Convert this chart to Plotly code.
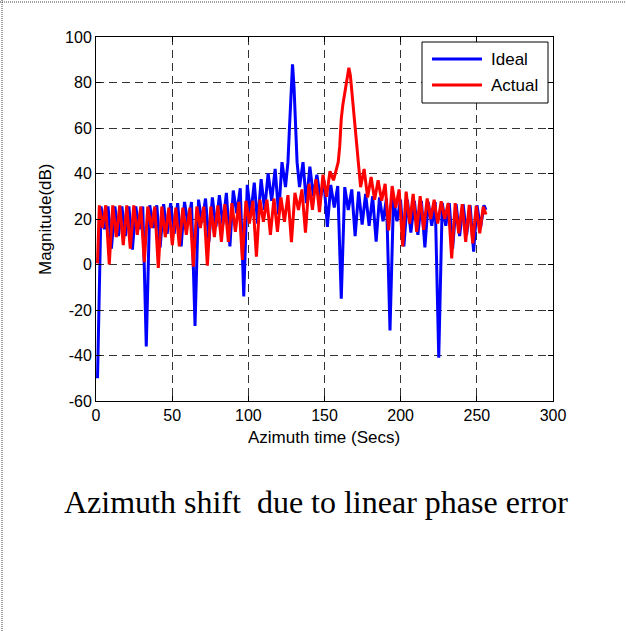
import plotly.graph_objects as go

# ---------------- data ----------------
ideal_x = (
    [1, 3.3, 5.6, 7.9, 10.1, 12.4, 14.7, 17.0, 19.3, 21.6, 23.9, 26.1, 28.4, 30.7]
    + [33, 35.3, 37.6, 39.9, 42.1, 44.4, 46.7, 49.0, 51.3, 53.6, 55.9, 58.1, 60.4, 62.7]
    + [65, 67.3, 69.6, 71.9, 74.1, 76.4, 78.7, 81.0, 83.3, 85.6, 87.9, 90.1, 92.4, 94.7]
    + [97, 99.3, 101.6, 103.9, 106.1, 108.4, 110.7, 113.0, 115.3, 117.6, 119.9, 122.1]
    + [124.4, 126, 127, 128, 129, 130, 131, 132, 133.6]
    + [135.9, 138.1, 140.4, 142.7, 145.0, 147.3, 149.6, 151.9, 154.1, 156.4, 158.7]
    + [161, 163.3, 165.6, 167.9, 170.1, 172.4, 174.7, 177.0, 179.3, 181.6, 183.9, 186.1, 188.4, 190.7]
    + [193, 195.3, 197.6, 199.9, 202.1, 204.4, 206.7, 209.0, 211.3, 213.6, 215.9, 218.1, 220.4, 222.7]
    + [225, 227.3, 229.6, 231.9, 234.1, 236.4, 238.7, 241.0, 243.3, 245.6, 247.9, 250.1, 252.4, 254.7, 256]
)
ideal_y = (
    [-50, 25.5, 15.5, 25.5, 7, 25.5, 12.5, 25.5, 12.5, 25.5, 6.5, 25.5, 15.5, 25.5]
    + [-36, 26, 16, 26, 7.5, 26.5, 13.5, 27, 13.5, 27, 8, 27.5, 17.5, 27.5]
    + [-27, 28.5, 18.5, 29, 10, 29.5, 16.5, 30.5, 17.5, 31.5, 8, 32.5, 22.5, 33.5]
    + [-14, 35, 22, 36, 18, 37.5, 24, 40, 28, 42, 22, 45]
    + [34, 45, 60, 78, 88, 78, 60, 45, 34]
    + [45, 27, 43, 30, 39.5, 29, 37, 16.5, 35, 25, 34.5]
    + [-15, 34, 24, 33, 12.5, 32, 17.5, 31, 17, 30, 10, 29.5, 19, 29]
    + [-29, 29, 19, 28.5, 8, 28.5, 14, 28, 13, 28, 7.5, 27.5, 17, 27.5]
    + [-41, 27, 17, 27, 7, 26.5, 12.5, 26.5, 13, 26, 5.6, 26, 16, 26, 24]
)

actual_x = (
    [1, 2.2, 4.1, 6.4, 8.7, 11.0, 13.3, 15.6, 17.9, 20.2, 22.5, 24.8, 27.1, 29.4, 31.7, 34.0, 36.3, 38.6]
    + [40.9, 43.2, 45.5, 47.8, 50.1, 52.4, 54.7, 57.0, 59.3, 61.6, 63.9, 66.2, 68.5, 70.8]
    + [73.1, 75.4, 77.7, 80.0, 82.3, 84.6, 86.9, 89.2, 91.5, 93.8, 96.1, 98.4, 100.7, 103.0]
    + [105.3, 107.6, 109.9, 112.2, 114.5, 116.8, 119.1, 121.4, 123.7, 126.0, 128.3, 130.6, 132.9, 135.2]
    + [137.5, 139.8, 142.1, 144.4, 146.7, 149.0, 151.3, 153.6, 155.9]
    + [158, 159, 160, 161, 162, 163, 164, 165, 166, 167, 168, 169, 170, 171, 172]
    + [173.7]
    + [176.0, 178.3, 180.6, 182.9, 185.2, 187.5, 189.8, 192.1, 194.4, 196.7, 199.0, 201.3, 203.6, 205.9]
    + [208.2, 210.5, 212.8, 215.1, 217.4, 219.7, 222.0, 224.3, 226.6, 228.9, 231.2, 233.5, 235.8, 238.1]
    + [240.4, 242.7, 245.0, 247.3, 249.6, 251.9, 254.2, 256]
)
actual_y = (
    [0.5, 26, 16, 26, 0, 26, 12, 26, 8.5, 26, 7, 26, 13, 25.5, 1, 25.5, 16, 25.5]
    + [-1.5, 25.5, 12, 25, 8.5, 25, 8, 25, 13, 25, -1, 25.5, 16, 25.5]
    + [-0.5, 25.5, 12, 26, 10, 26.5, 10, 27, 14.4, 27.5, 2, 28, 18, 28]
    + [3.4, 28.5, 18.8, 28.5, 13, 29, 14.4, 29.5, 18.8, 30.5, 9.8, 31.5, 24, 33]
    + [14, 35.5, 24, 37.5, 23, 39.5, 29.8, 41, 37]
    + [43, 45, 52, 64, 70, 74, 78, 84, 86.5, 83, 76, 68, 61, 53, 45]
    + [34]
    + [42, 29.5, 38.5, 28.5, 37, 28, 35.5, 15, 34.5, 25, 33, 8, 32, 18]
    + [31, 14.4, 30, 15.2, 29, 20, 28.5, 18, 27.8, 20, 27, 2.7, 27, 13.7]
    + [26.5, 10, 26.2, 9.3, 25.8, 13.7, 25.4, 22]
)

x_ticks = [0, 50, 100, 150, 200, 250, 300]
y_ticks = [-60, -40, -20, 0, 20, 40, 60, 80, 100]
series_names = ["Ideal", "Actual"]
series_colors = ["#0000FF", "#FF0000"]
x_title = "Azimuth time (Secs)"
y_title = "Magnitude(dB)"
caption = "Azimuth shift  due to linear phase error"

# ---------------- figure ----------------
W, H = 626, 631
L, R, T, B = 96, 73, 37, 230
pw, ph = W - L - R, H - T - B


def px_x(p):
    return (p - L) / pw


def px_y(p):
    return (H - B - p) / ph


sans = "Liberation Sans, Arial, sans-serif"
fs_tick = 16
fs_title = 17
lw = 3

fig = go.Figure()
fig.add_trace(go.Scatter(x=ideal_x, y=ideal_y, mode="lines", name=series_names[0],
                         line=dict(color=series_colors[0], width=lw), showlegend=False))
fig.add_trace(go.Scatter(x=actual_x, y=actual_y, mode="lines", name=series_names[1],
                         line=dict(color=series_colors[1], width=lw), showlegend=False))

axis_common = dict(
    showline=True, linecolor="black", linewidth=1, mirror="ticks",
    ticks="inside", ticklen=5, tickcolor="black", tickwidth=1,
    showgrid=True, gridcolor="#333333", gridwidth=1, griddash="8px,5px",
    zeroline=False, tickfont=dict(family=sans, size=fs_tick, color="black"),
)
fig.update_xaxes(range=[0, 300], tickvals=x_ticks, ticktext=[str(v) for v in x_ticks], **axis_common)
fig.update_yaxes(range=[-60, 100], tickvals=y_ticks, ticktext=[str(v) for v in y_ticks], **axis_common)

# legend drawn by hand (MATLAB style box, long line samples)
leg_box = (422, 42, 548, 103)
leg_rows = [59, 85]
shapes = [
    dict(type="rect", xref="paper", yref="paper",
         x0=px_x(leg_box[0]), x1=px_x(leg_box[2]), y0=px_y(leg_box[3]), y1=px_y(leg_box[1]),
         line=dict(color="black", width=1), fillcolor="white", layer="above"),
]
annotations = []
for name, col, ry in zip(series_names, series_colors, leg_rows):
    shapes.append(dict(type="line", xref="paper", yref="paper",
                       x0=px_x(432), x1=px_x(482), y0=px_y(ry), y1=px_y(ry),
                       line=dict(color=col, width=lw), layer="above"))
    annotations.append(dict(text=name, x=px_x(489), y=px_y(ry), xref="paper", yref="paper",
                            showarrow=False, xanchor="left", yanchor="middle",
                            font=dict(family=sans, size=fs_title, color="black")))

shapes += [
    dict(type="line", xref="paper", yref="paper", x0=px_x(0), x1=px_x(626),
         y0=px_y(2), y1=px_y(2), line=dict(color="#444444", width=1, dash="1px,1px")),
    dict(type="line", xref="paper", yref="paper", x0=px_x(2), x1=px_x(2),
         y0=px_y(0), y1=px_y(631), line=dict(color="#444444", width=1, dash="1px,1px")),
]

annotations += [
    dict(text=x_title, x=px_x(324), y=px_y(437), xref="paper", yref="paper",
         showarrow=False, xanchor="center", yanchor="middle",
         font=dict(family=sans, size=fs_title)),
    dict(text=y_title, x=px_x(45), y=px_y(219), xref="paper", yref="paper",
         showarrow=False, xanchor="center", yanchor="middle", textangle=-90,
         font=dict(family=sans, size=fs_title)),
    dict(text=caption, x=px_x(316), y=px_y(502), xref="paper", yref="paper",
         showarrow=False, xanchor="center", yanchor="middle",
         font=dict(family="Liberation Serif, Times New Roman, serif", size=32, color="black")),
]

fig.update_layout(
    width=W, height=H,
    margin=dict(l=L, r=R, t=T, b=B, pad=0),
    paper_bgcolor="white", plot_bgcolor="white",
    font=dict(family=sans, size=fs_tick, color="black"),
    showlegend=False,
    annotations=annotations,
    shapes=shapes,
)

fig.write_html("out.html")
